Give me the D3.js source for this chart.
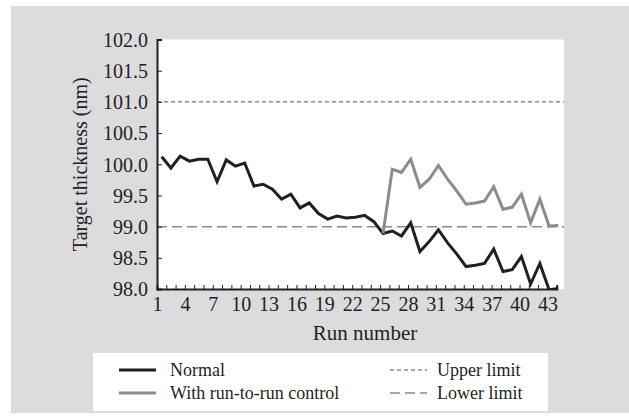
<!DOCTYPE html>
<html>
<head>
<meta charset="utf-8">
<script src="https://cdn.jsdelivr.net/npm/d3@7"></script>
<style>
  body { margin: 0; background: #fff; }
  text { font-family: "Liberation Serif", "Times New Roman", serif; fill: #231f20; }
</style>
</head>
<body>
<script>
// run numbers and measured thickness (nm)
var runs = d3.range(1, 45);
var normal = [100.12, 99.94, 100.13, 100.05, 100.08, 100.08, 99.72, 100.07, 99.97, 100.02,
              99.65, 99.68, 99.60, 99.44, 99.52, 99.30, 99.38, 99.21, 99.12, 99.17,
              99.14, 99.15, 99.18, 99.08, 98.89, 98.93, 98.85, 99.06, 98.60, 98.76,
              98.95, 98.74, 98.56, 98.36, 98.38, 98.41, 98.64, 98.28, 98.31, 98.52,
              98.08, 98.41, 97.99, 98.01];
// run-to-run control starts at run 25
var controlled = [null, null, null, null, null, null, null, null, null, null,
                  null, null, null, null, null, null, null, null, null, null,
                  null, null, null, null, 98.89, 99.92, 99.87, 100.08, 99.63, 99.76,
                  99.98, 99.76, 99.57, 99.36, 99.38, 99.41, 99.64, 99.28, 99.31, 99.52,
                  99.06, 99.44, 99.01, 99.02];
var upperLimit = 101.0;
var lowerLimit = 99.0;
var yTicks = [98.0, 98.5, 99.0, 99.5, 100.0, 100.5, 101.0, 101.5, 102.0];
var xLabels = [1, 4, 7, 10, 13, 16, 19, 22, 25, 28, 31, 34, 37, 40, 43];

var W = 629, H = 416;
var pLeft = 157, pRight = 564, pTop = 39.5, pBottom = 289;

var svg = d3.select("body").append("svg")
    .attr("width", W)
    .attr("height", H);

svg.append("rect").attr("x", 11).attr("y", 6).attr("width", W - 11).attr("height", 407)
    .attr("fill", "#dcdcde");
svg.append("rect").attr("x", pLeft).attr("y", pTop).attr("width", pRight - pLeft).attr("height", pBottom - pTop)
    .attr("fill", "#fff");

var y = d3.scaleLinear().domain([98, 102]).range([pBottom, pTop]);
var xAxisScale = d3.scaleLinear().domain([1, 44]).range([pLeft, 556.7]);
var x = d3.scalePoint().domain(runs).range([161.7, 558.3]);

// limit lines
svg.append("line")
    .attr("x1", pLeft).attr("x2", pRight)
    .attr("y1", y(upperLimit)).attr("y2", y(upperLimit))
    .attr("stroke", "#555").attr("stroke-width", 1)
    .attr("stroke-dasharray", "4,3");
svg.append("line")
    .attr("x1", pLeft).attr("x2", pRight)
    .attr("y1", y(lowerLimit)).attr("y2", y(lowerLimit))
    .attr("stroke", "#8a8a8a").attr("stroke-width", 1.5)
    .attr("stroke-dasharray", "10,5");

var line = d3.line()
    .defined(function (d) { return d[1] != null; })
    .x(function (d) { return x(d[0]); })
    .y(function (d) { return y(d[1]); });

svg.append("defs").append("clipPath").attr("id", "clip")
  .append("rect").attr("x", pLeft).attr("y", pTop - 5).attr("width", pRight - pLeft).attr("height", pBottom - pTop + 5);

svg.append("path")
    .datum(runs.map(function (r, i) { return [r, normal[i]]; }))
    .attr("d", line)
    .attr("clip-path", "url(#clip)")
    .attr("fill", "none").attr("stroke", "#231f20").attr("stroke-width", 3)
    .attr("stroke-linejoin", "miter");

svg.append("path")
    .datum(runs.map(function (r, i) { return [r, controlled[i]]; }))
    .attr("d", line)
    .attr("clip-path", "url(#clip)")
    .attr("fill", "none").attr("stroke", "#8c8c8c").attr("stroke-width", 3)
    .attr("stroke-linejoin", "miter");

// axes
var yAxis = d3.axisLeft(y).tickValues(yTicks).tickSize(-5).tickPadding(9)
    .tickFormat(d3.format(".1f"));
var gy = svg.append("g").attr("transform", "translate(" + pLeft + ",0)").call(yAxis);

var xAxis = d3.axisBottom(xAxisScale).tickValues(d3.range(1, 45)).tickSize(-4).tickPadding(8)
    .tickFormat(function (d) { return xLabels.indexOf(d) >= 0 ? d : ""; });
var gx = svg.append("g").attr("transform", "translate(0," + pBottom + ")").call(xAxis);

[gx, gy].forEach(function (g) {
  g.select(".domain").attr("stroke", "#231f20").attr("stroke-width", 2);
  g.selectAll(".tick line").attr("stroke", "#231f20").attr("stroke-width", 1);
  g.selectAll("text").attr("font-family", "Liberation Serif").attr("font-size", 20).attr("fill", "#231f20");
});
gy.selectAll(".tick text").attr("dy", "0.34em");

svg.append("text")
    .attr("x", 365).attr("y", 340)
    .attr("text-anchor", "middle").attr("font-size", 21)
    .text("Run number");

svg.append("text")
    .attr("transform", "translate(87," + ((pTop + pBottom) / 2) + ") rotate(-90)")
    .attr("text-anchor", "middle").attr("font-size", 20)
    .text("Target thickness (nm)");

// legend
svg.append("rect").attr("x", 93).attr("y", 353).attr("width", 455).attr("height", 58)
    .attr("fill", "#fff");

var legendItems = [
  { label: "Normal", x: 119, row: 0, color: "#231f20", width: 3, dash: null },
  { label: "With run-to-run control", x: 119, row: 1, color: "#8c8c8c", width: 3, dash: null },
  { label: "Upper limit", x: 390, row: 0, color: "#555", width: 1, dash: "4,3" },
  { label: "Lower limit", x: 390, row: 1, color: "#8a8a8a", width: 1.5, dash: "10,5" }
];
var lg = svg.selectAll(".legend").data(legendItems).enter().append("g")
    .attr("transform", function (d) { return "translate(" + d.x + "," + (370 + d.row * 23) + ")"; });
lg.append("line").attr("x1", 0).attr("x2", 37).attr("y1", 0).attr("y2", 0)
    .attr("stroke", function (d) { return d.color; })
    .attr("stroke-width", function (d) { return d.width; })
    .attr("stroke-dasharray", function (d) { return d.dash; });
lg.append("text").attr("x", function (d) { return d.x < 200 ? 51 : 47; }).attr("y", 0).attr("dy", "0.33em")
    .attr("font-size", 18)
    .text(function (d) { return d.label; });
</script>
</body>
</html>
